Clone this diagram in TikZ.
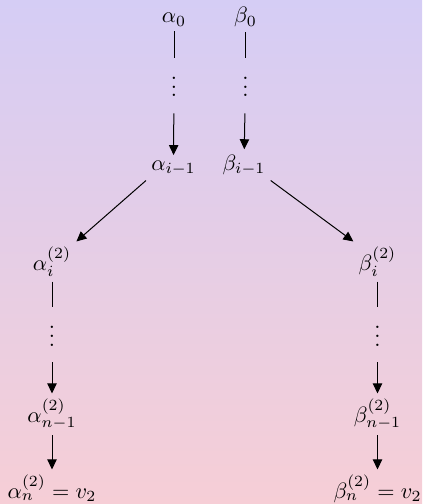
\documentclass[tikz,border=0pt]{standalone}
\usetikzlibrary{arrows.meta}
\definecolor{bgtop}{RGB}{213,205,245}
\definecolor{bgbot}{RGB}{246,206,214}
\begin{document}
\begin{tikzpicture}[x=0.45pt,y=-0.45pt,
  lbl/.style={anchor=base,inner sep=2.2pt},
  dts/.style={anchor=base,inner sep=2.2pt},
  ln/.style={line width=0.45pt},
  arr/.style={line width=0.45pt,-{Triangle[length=4.5pt,width=4.2pt]}},
  fromdots/.style={arr,shorten <=5pt}]
\fill[top color=bgtop,bottom color=bgbot] (0,0) rectangle (422,504);
\useasboundingbox (0,0) rectangle (422,504);
% top chains
\node[lbl] (a0) at (174,22.7) {$\alpha_0$};
\node[lbl] (b0) at (245.5,22.7) {$\beta_0$};
\node[dts] (da) at (174,97) {$\vdots$};
\node[dts] (db) at (245.5,97) {$\vdots$};
\node[lbl] (ai1) at (173.5,170) {$\alpha_{i-1}$};
\node[lbl] (bi1) at (244,170) {$\beta_{i-1}$};
% lower chains
\node[lbl] (ai2) at (52,270) {$\alpha_i^{(2)}$};
\node[lbl] (bi2) at (377.5,270) {$\beta_i^{(2)}$};
\node[dts] (da2) at (52,346) {$\vdots$};
\node[dts] (db2) at (377.5,346) {$\vdots$};
\node[lbl] (an1) at (52,422) {$\alpha_{n-1}^{(2)}$};
\node[lbl] (bn1) at (377.5,422) {$\beta_{n-1}^{(2)}$};
\node[lbl] (an) at (52,498) {$\alpha_n^{(2)} = v_2$};
\node[lbl] (bn) at (377.5,498) {$\beta_n^{(2)} = v_2$};
% connectors
\draw[ln] (a0) -- (da);
\draw[ln] (b0) -- (db);
\draw[fromdots] (da) -- (ai1);
\draw[fromdots] (db) -- (bi1);
\draw[arr] (ai1.south west) -- (ai2.north east);
\draw[arr] (bi1.south east) -- (bi2.north west);
\draw[ln] (ai2) -- (da2);
\draw[ln] (bi2) -- (db2);
\draw[fromdots] (da2) -- (an1);
\draw[fromdots] (db2) -- (bn1);
\draw[arr] (an1) -- (an);
\draw[arr] (bn1) -- (bn);
\end{tikzpicture}
\end{document}
